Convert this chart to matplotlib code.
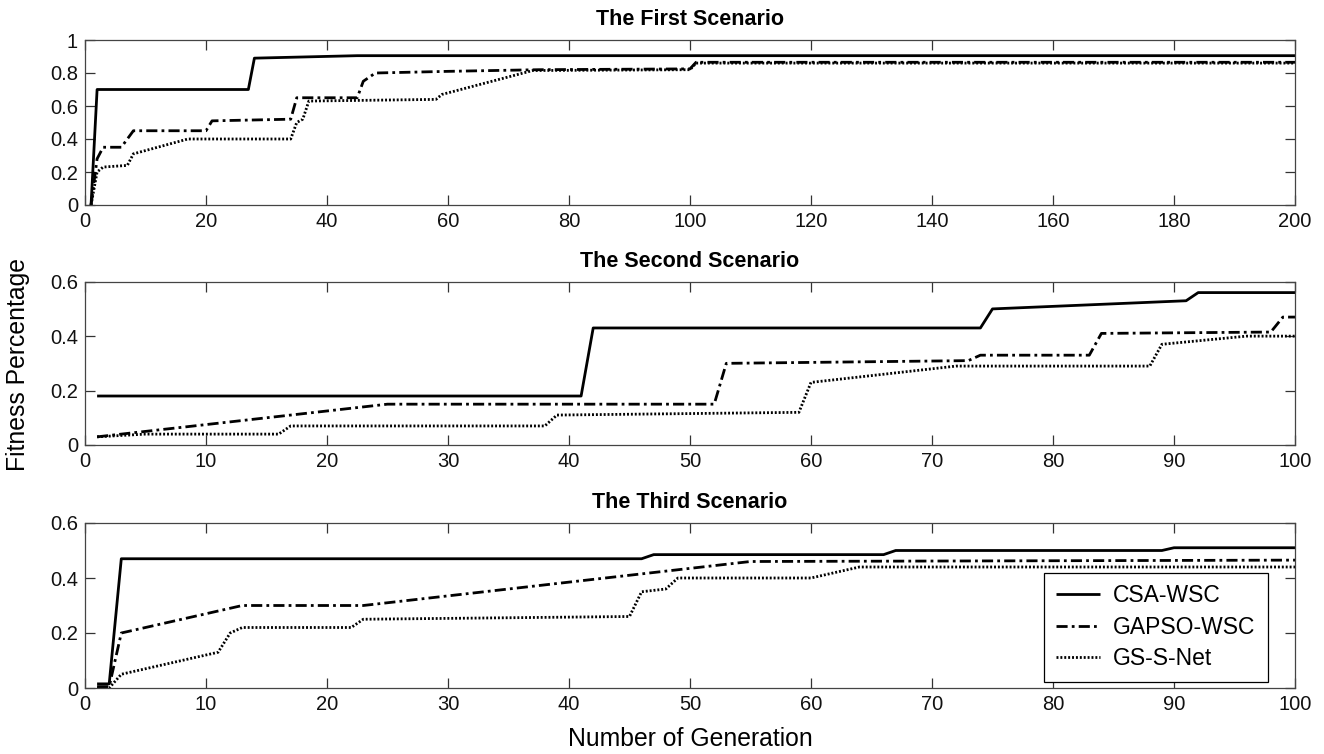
import matplotlib
matplotlib.use("Agg")
import matplotlib.pyplot as plt

plt.rcParams['font.family'] = ['Liberation Sans', 'DejaVu Sans']

# ---- Scenario 1 (200 generations) ----
s1_csa_x = [1, 2, 27, 28, 45, 200]
s1_csa_y = [0.0, 0.70, 0.70, 0.89, 0.905, 0.905]
s1_gapso_x = [1, 2, 3, 6, 8, 20, 21, 34, 35, 45, 46, 48, 60, 75, 100, 101, 200]
s1_gapso_y = [0.0, 0.28, 0.35, 0.35, 0.45, 0.45, 0.51, 0.52, 0.65, 0.65, 0.75, 0.80, 0.81, 0.82, 0.825, 0.865, 0.865]
s1_gs_x = [1, 2, 3, 7, 8, 12, 17, 34, 35, 36, 37, 58, 59, 74, 100, 101, 200]
s1_gs_y = [0.0, 0.20, 0.23, 0.24, 0.31, 0.35, 0.40, 0.40, 0.50, 0.52, 0.63, 0.64, 0.67, 0.815, 0.82, 0.86, 0.86]

# ---- Scenario 2 (100 generations) ----
s2_csa_x = [1, 41, 42, 74, 75, 91, 92, 100]
s2_csa_y = [0.18, 0.18, 0.43, 0.43, 0.50, 0.53, 0.56, 0.56]
s2_gapso_x = [1, 25, 52, 53, 73, 74, 83, 84, 98, 99, 100]
s2_gapso_y = [0.03, 0.15, 0.15, 0.30, 0.31, 0.33, 0.33, 0.41, 0.415, 0.47, 0.47]
s2_gs_x = [1, 5, 16, 17, 38, 39, 59, 60, 72, 88, 89, 96, 100]
s2_gs_y = [0.03, 0.04, 0.04, 0.07, 0.07, 0.11, 0.12, 0.23, 0.29, 0.29, 0.37, 0.40, 0.40]

# ---- Scenario 3 (100 generations) ----
s3_csa_x = [1, 2, 3, 46, 47, 66, 67, 89, 90, 100]
s3_csa_y = [0.015, 0.015, 0.47, 0.47, 0.485, 0.485, 0.50, 0.50, 0.51, 0.51]
s3_gapso_x = [1, 2, 3, 13, 23, 55, 100]
s3_gapso_y = [0.005, 0.005, 0.20, 0.30, 0.30, 0.46, 0.465]
s3_gs_x = [1, 2, 3, 11, 12, 13, 22, 23, 45, 46, 48, 49, 60, 64, 100]
s3_gs_y = [0.0, 0.0, 0.05, 0.13, 0.20, 0.22, 0.22, 0.25, 0.26, 0.35, 0.36, 0.40, 0.40, 0.44, 0.44]

titles = ["The First Scenario", "The Second Scenario", "The Third Scenario"]
series_names = ["CSA-WSC", "GAPSO-WSC", "GS-S-Net"]
x_ticks = [list(range(0, 201, 20)), list(range(0, 101, 10)), list(range(0, 101, 10))]
y_ticks = [[0, 0.2, 0.4, 0.6, 0.8, 1], [0, 0.2, 0.4, 0.6], [0, 0.2, 0.4, 0.6]]
x_lims = [(0, 200), (0, 100), (0, 100)]
y_lims = [(0, 1), (0, 0.6), (0, 0.6)]

panels = [
    [(s1_csa_x, s1_csa_y), (s1_gapso_x, s1_gapso_y), (s1_gs_x, s1_gs_y)],
    [(s2_csa_x, s2_csa_y), (s2_gapso_x, s2_gapso_y), (s2_gs_x, s2_gs_y)],
    [(s3_csa_x, s3_csa_y), (s3_gapso_x, s3_gapso_y), (s3_gs_x, s3_gs_y)],
]

styles = [
    dict(linestyle='-'),
    dict(linestyle=(0, (4.0, 1.5, 1.0, 1.5))),
    dict(linestyle=(0, (0.7, 0.7))),
]

fig = plt.figure(figsize=(13.24, 7.54), dpi=100)
W, H = 1324, 754
boxes = [(85, 40, 1295, 205), (85, 281.7, 1295, 445), (85, 523, 1295, 688)]

axes = []
for (l, t, r, b) in boxes:
    ax = fig.add_axes([l / W, 1 - b / H, (r - l) / W, (b - t) / H])
    axes.append(ax)

for i, ax in enumerate(axes):
    for j, (xs, ys) in enumerate(panels[i]):
        ax.plot(xs, ys, color='black', linewidth=2.0,
                solid_capstyle='butt', dash_capstyle='butt',
                label=series_names[j], **styles[j])
    ax.set_xlim(*x_lims[i])
    ax.set_ylim(*y_lims[i])
    ax.set_xticks(x_ticks[i])
    ax.set_yticks(y_ticks[i])
    ax.set_yticklabels([f"{v:g}" for v in y_ticks[i]])
    ax.tick_params(direction='in', length=7, width=0.9, color='#333333',
                   top=True, right=True, labelsize=14.5, pad=5,
                   labelcolor='#111111')
    for sp in ax.spines.values():
        sp.set_color('#444444')
        sp.set_linewidth(0.9)
    ax.set_title(titles[i], fontsize=15.5, fontweight='bold', pad=10.5)

leg = axes[2].legend(loc='lower right', bbox_to_anchor=(0.9774, 0.0345),
                     borderaxespad=0, fontsize=16.5, frameon=True,
                     fancybox=False, framealpha=1, edgecolor='black',
                     handlelength=1.9, handletextpad=0.6, labelspacing=0.37,
                     borderpad=0.52)
leg.get_frame().set_linewidth(0.9)

fig.text(18 / W, 1 - 364 / H, "Fitness Percentage", rotation=90,
         fontsize=17.8, ha='center', va='center')
fig.text(690 / W, 1 - 739 / H, "Number of Generation",
         fontsize=17.8, ha='center', va='center')

fig.savefig("out.png", dpi=100)
